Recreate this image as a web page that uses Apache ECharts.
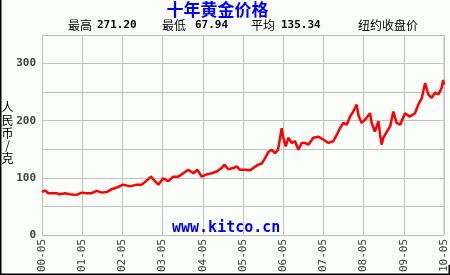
<!DOCTYPE html>
<html>
<head>
<meta charset="utf-8">
<script src="https://cdn.jsdelivr.net/npm/echarts@6/dist/echarts.min.js"></script>
<style>
html,body{margin:0;padding:0;background:#fbfdfb;}
#c{width:450px;height:275px;}
</style>
</head>
<body>
<div id="c"></div>
<script>
// Years since 2000-05
var years = [0,0.075,0.157,0.366,0.448,0.572,0.697,0.863,0.988,1.112,1.236,1.361,1.485,1.609,1.734,1.858,2.022,2.189,2.356,2.48,2.604,2.711,2.811,2.893,3.017,3.142,3.266,3.391,3.515,3.639,3.764,3.863,3.973,4.097,4.221,4.346,4.47,4.535,4.634,4.759,4.843,4.925,5.05,5.174,5.256,5.381,5.465,5.547,5.629,5.714,5.796,5.871,5.963,5.995,6.062,6.127,6.211,6.294,6.376,6.46,6.542,6.624,6.749,6.873,6.998,7.122,7.246,7.331,7.413,7.495,7.58,7.662,7.744,7.828,7.87,7.91,7.95,8.04,8.16,8.2,8.28,8.37,8.41,8.45,8.49,8.58,8.66,8.74,8.82,8.91,9.03,9.15,9.28,9.36,9.45,9.53,9.61,9.69,9.78,9.86,9.94,9.98,10.0];
// Price (RMB / gram)
var prices = [75,78,73,73,71,73,71,70,74,73,73,77,74,75,80,83,88,85,88,88,95,102,94,88,99,94,102,102,108,114,108,114,102,106,108,111,117,123,115,117,120,114,114,113,117,123,125,134,145,149,143,149,187,172,155,170,161,164,149,161,161,158,170,172,167,161,164,175,187,196,193,207,216,228,210,213,196,202,213,196,181,199,175,158,170,181,190,216,196,193,213,207,213,228,240,266,246,240,249,246,257,271,263];
var tickLabels = ['00-05','01-05','02-05','03-05','04-05','05-05','06-05','07-05','08-05','09-05','10-05'];
var titleText = '十年黄金价格';
var statLabels = ['最高','最低','平均'];
var statValues = ['271.20','67.94','135.34'];

var data = years.map(function(y,i){return [y, prices[i]];});
var chart = echarts.init(document.getElementById('c'), null, {renderer:'canvas'});
var cjk = '"Noto Sans CJK SC", sans-serif';
var mono = '"DejaVu Sans Mono", monospace';
chart.setOption({
  backgroundColor:'#fbfdfb',
  animation:false,
  grid:{left:42,right:6,top:35,bottom:40,containLabel:false},
  xAxis:{type:'value',min:0,max:10,interval:1,
    axisLine:{show:false},axisTick:{show:false},
    splitLine:{show:true,lineStyle:{color:'#c0c0c0',width:1}},
    axisLabel:{rotate:90,margin:4,color:'#404040',fontFamily:mono,fontSize:11,
      formatter:function(v){return tickLabels[Math.round(v)]||'';}}},
  yAxis:{type:'value',min:0,max:350,interval:50,
    axisLine:{show:true,lineStyle:{color:'#c0c0c0'}},axisTick:{show:false},
    splitLine:{show:true,lineStyle:{color:'#c0c0c0',width:1}},
    axisLabel:{margin:6,color:'#404040',fontFamily:mono,fontSize:11,fontWeight:'bold',
      formatter:function(v){return v%100===0?String(v):'';}}},
  series:[{type:'line',data:data,showSymbol:false,symbol:'none',
    lineStyle:{color:'#ff0000',width:2.5},z:3}],
  graphic:[
    {type:'rect',shape:{x:443.5,y:35,width:0.5,height:200},style:{fill:'#c0c0c0'}},
    {type:'rect',shape:{x:0,y:0,width:1.5,height:275},style:{fill:'#000'}},
    {type:'rect',shape:{x:0,y:273.5,width:450,height:1.5},style:{fill:'#000'}},
    {type:'rect',shape:{x:448.5,y:265,width:1.5,height:10},style:{fill:'#000'}},
    {type:'text',x:217.5,y:10,style:{text:titleText,fill:'#0000ff',font:'bold 17px '+cjk,textAlign:'center',textVerticalAlign:'middle'}},
    {type:'text',x:68,y:25.5,style:{text:statLabels[0],fill:'#000',font:'12px '+cjk,textVerticalAlign:'middle'}},
    {type:'text',x:97,y:25.5,style:{text:statValues[0],fill:'#000',font:'bold 11px '+mono,textVerticalAlign:'middle'}},
    {type:'text',x:162,y:25.5,style:{text:statLabels[1],fill:'#000',font:'12px '+cjk,textVerticalAlign:'middle'}},
    {type:'text',x:195,y:25.5,style:{text:statValues[1],fill:'#000',font:'bold 11px '+mono,textVerticalAlign:'middle'}},
    {type:'text',x:251,y:25.5,style:{text:statLabels[2],fill:'#000',font:'12px '+cjk,textVerticalAlign:'middle'}},
    {type:'text',x:281,y:25.5,style:{text:statValues[2],fill:'#000',font:'bold 11px '+mono,textVerticalAlign:'middle'}},
    {type:'text',x:358,y:25.5,style:{text:'纽约收盘价',fill:'#000',font:'12px '+cjk,textVerticalAlign:'middle'}},
    {type:'text',x:7.5,y:133,style:{text:'人\n民\n币\n/\n克',fill:'#000',font:'12px '+cjk,textAlign:'center',textVerticalAlign:'middle',lineHeight:12.6}},
    {type:'text',x:172,y:228,z:10,style:{text:'www.kitco.cn',fill:'#0000ff',font:'bold 15px '+mono,textVerticalAlign:'middle'}}
  ]
});
</script>
</body>
</html>
